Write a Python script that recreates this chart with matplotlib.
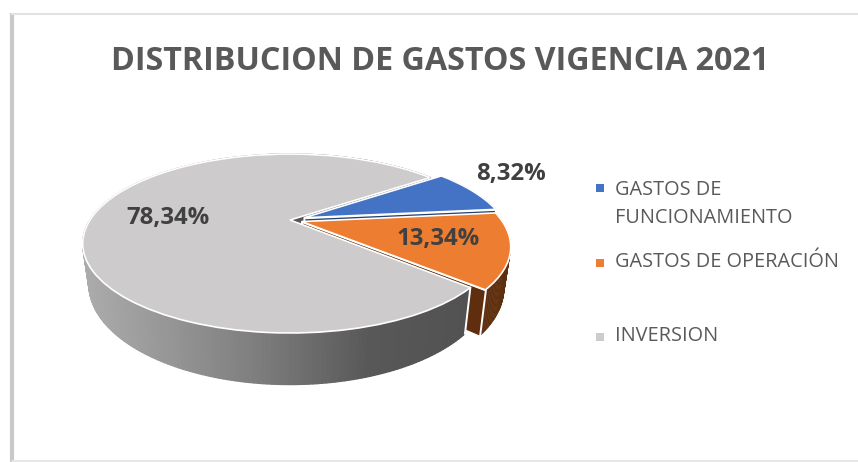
import numpy as np
import matplotlib
matplotlib.use('Agg')
import matplotlib.pyplot as plt
from matplotlib.collections import PolyCollection
from matplotlib.transforms import Transform

title = 'DISTRIBUCION DE GASTOS VIGENCIA 2021'
categories = ['GASTOS DE\nFUNCIONAMIENTO', 'GASTOS DE OPERACIÓN', 'INVERSION']
values = [8.32, 13.34, 78.34]
colors = ['#4472c4', '#ed7d31', '#cdcbcb']
wall_colors = ['#26426f', '#5e2e0e', '#555555']
explode = [0.075, 0.06, 0]

label_pos = [(511, 174), (438, 239), (168, 218)]
legend_y = [188, 263, 337]
legend_text_y = [204, 262, 336]

# tilted view of the pie, in image pixels
CX, CY = 290, 220
A, B, K = 200, 83.3, 0.2627
DEPTH = 38
BOTTOM_SCALE = 0.97


def project(x, y, z=0.0):
    w = 1 + K * y
    sx = 1 - (1 - BOTTOM_SCALE) * z
    return CX + sx * A * x / w, CY - B * y / w + z * DEPTH / w


class PieView(Transform):
    input_dims = 2
    output_dims = 2

    def transform_non_affine(self, xy):
        xy = np.asarray(xy, dtype=float)
        px, py = project(xy[:, 0], xy[:, 1])
        return np.column_stack([px, py])


def side_color(px):
    g = np.interp(px, [85, 170, 260, 370, 470], [172, 150, 125, 88, 82]) / 255
    return (g, g, g)


def rim_quads(w, step=1.0):
    n = max(int((w.theta2 - w.theta1) / step), 1)
    t = np.radians(np.linspace(w.theta1, w.theta2, n + 1))
    x = w.center[0] + w.r * np.cos(t)
    y = w.center[1] + w.r * np.sin(t)
    top = np.column_stack(project(x, y, 0))
    bot = np.column_stack(project(x, y, 1))
    return [[top[i], top[i + 1], bot[i + 1], bot[i]] for i in range(n)]


def radial_quad(w, angle):
    t = np.radians(angle)
    x = np.array([w.center[0], w.center[0] + w.r * np.cos(t)])
    y = np.array([w.center[1], w.center[1] + w.r * np.sin(t)])
    top = np.column_stack(project(x, y, 0))
    bot = np.column_stack(project(x, y, 1))
    return [top[0], top[1], bot[1], bot[0]]


fig = plt.figure(figsize=(8.58, 4.62), dpi=100)
ax = fig.add_axes([0, 0, 1, 1])

wedges, _ = ax.pie(values, colors=colors, explode=explode, startangle=36,
                   counterclock=False, radius=1,
                   wedgeprops={'edgecolor': 'white', 'linewidth': 1.2})
ax.set_aspect('auto')
ax.set_xlim(0, 858)
ax.set_ylim(462, 0)
ax.axis('off')

view = PieView() + ax.transData
for w in wedges:
    w.set_transform(view)
wedges[0].set_zorder(12)
wedges[1].set_zorder(11)
wedges[2].set_zorder(10)

blue, orange, gray = wedges

# inner side of the gray slice, seen through the gap
ax.add_collection(PolyCollection([radial_quad(gray, gray.theta1)], facecolors='#555555',
                                 edgecolors='none', zorder=2))

# blue and orange sides
for w, c in [(blue, wall_colors[0]), (orange, wall_colors[1])]:
    q = rim_quads(w)
    ax.add_collection(PolyCollection(q, facecolors=c, edgecolors=c, linewidths=0.4, zorder=3))
    ax.add_collection(PolyCollection([radial_quad(w, w.theta1)], facecolors=c,
                                     edgecolors='white', linewidths=1.4, zorder=4))

# gray outer side with the horizontal shading
q = rim_quads(gray)
ax.add_collection(PolyCollection(q, facecolors=[side_color(np.mean([p[0] for p in s])) for s in q],
                                 edgecolors='face', linewidths=1.0, zorder=5))
end = radial_quad(gray, gray.theta2)
ax.plot([end[1][0], end[2][0]], [end[1][1], end[2][1]], color='white', lw=1.4, zorder=6)

for v, pos in zip(values, label_pos):
    ax.text(pos[0], pos[1], f'{v:.2f}'.replace('.', ',') + '%', ha='center', va='center',
            fontsize=17.3, fontweight='bold', color='#404040', family='Open Sans', zorder=20)

ax.text(440, 62, title, ha='center', va='center', fontsize=23.2, fontweight='bold',
        color='#595959', family='Open Sans')

ax.scatter([600] * 3, legend_y, marker='s', s=32, c=colors, linewidths=0)
for cat, y in zip(categories, legend_text_y):
    ax.text(615, y, cat, ha='left', va='center', fontsize=14.3, color='#595959',
            family='Open Sans', linespacing=1.5)

# chart border
ax.plot([12, 12], [13, 462], color='#c9c9c9', lw=3, solid_capstyle='butt')
ax.plot([11, 858], [13.5, 13.5], color='#e2e2e2', lw=1.5, solid_capstyle='butt')
ax.plot([11, 858], [460.5, 460.5], color='#e6e6e6', lw=2, solid_capstyle='butt')

fig.savefig('out.png', dpi=100)
